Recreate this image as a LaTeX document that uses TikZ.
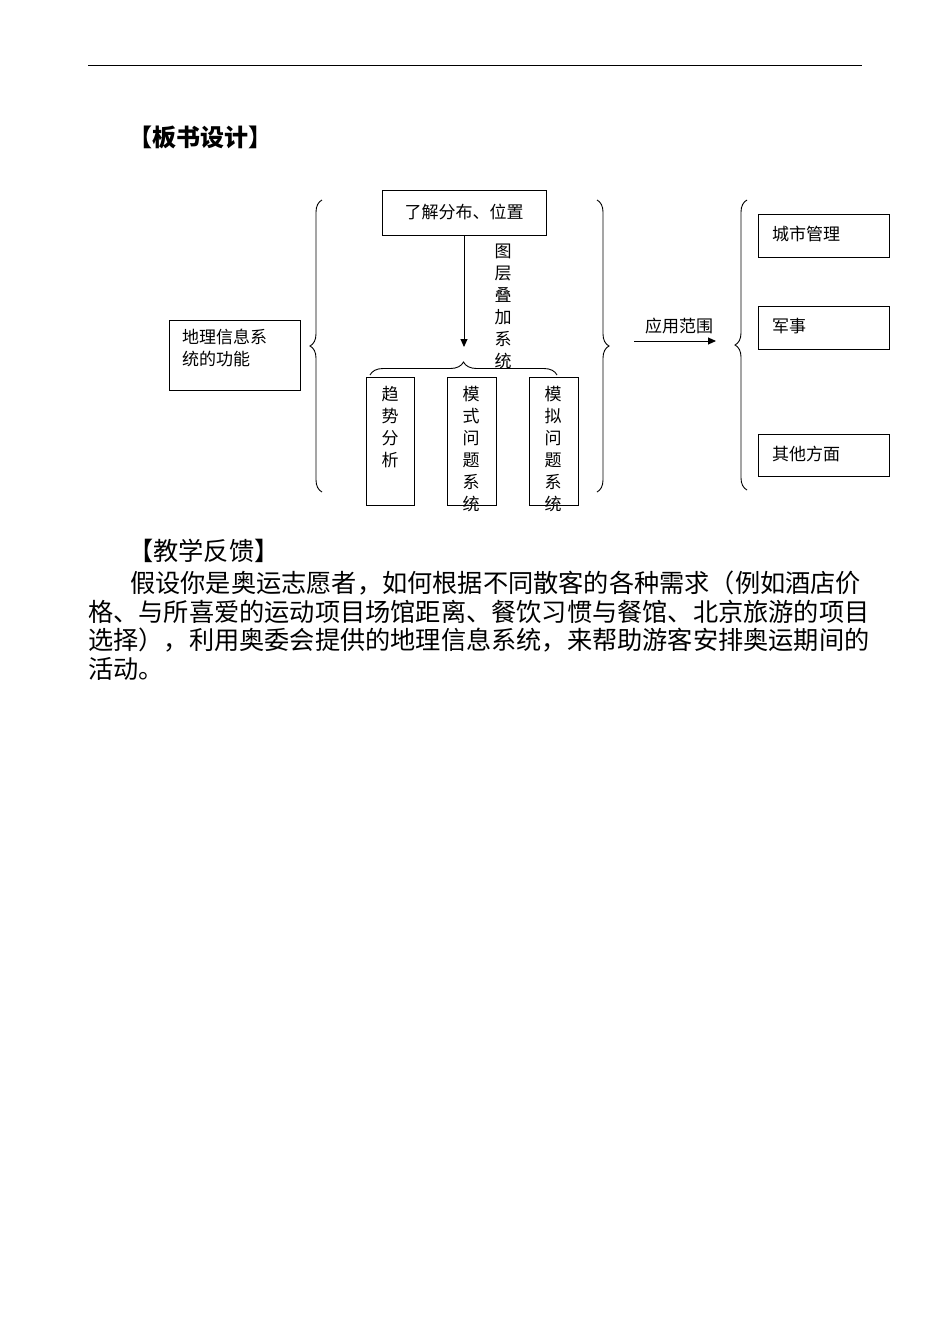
\documentclass[tikz,border=0pt]{standalone}
\usepackage{fontspec}
\setmainfont{Noto Sans CJK SC}
\usetikzlibrary{decorations.pathreplacing,arrows.meta}
\begin{document}
\begin{tikzpicture}[x=1pt,y=-1pt,
  box/.style={draw,line width=0.9pt,inner sep=0},
  lbl/.style={font=\fontsize{17}{22}\selectfont,inner sep=0},
  br/.style={decorate,decoration={brace,amplitude=12pt},line width=0.9pt},
  para/.style={font=\fontsize{25.2}{29}\selectfont,anchor=west,inner sep=0}]
\useasboundingbox (0,0) rectangle (950,1342);
\draw[line width=0.9pt] (88,65) -- (862,65);
\node[anchor=west,inner sep=0,font=\fontsize{24}{28}\selectfont\bfseries] (t1) at (128,137) {【板书设计】};
\draw[box] (169,320) rectangle (300,390);
\node[lbl,align=left,anchor=north west] (f) at (182,329) {地理信息系\\统的功能};
\draw[br] (322,492) -- (322,200);
\draw[box] (382,190) rectangle (546,235);
\node[lbl] (top) at (464,212) {了解分布、位置};
\coordinate (a1) at (464,235);
\coordinate (a2) at (464,347);
\draw[-{Triangle[length=8pt,width=7pt]},line width=0.9pt] (a1) -- (a2);
\node[lbl,align=center,anchor=north] (v) at (503,244) {图\\层\\叠\\加\\系\\统};
\draw[decorate,decoration={brace,amplitude=13pt},line width=0.9pt] (370,375) -- (557,375);
\draw[box] (366,377) rectangle (414,505);
\draw[box] (447,377) rectangle (496,505);
\draw[box] (529,377) rectangle (578,505);
\node[lbl,align=center,anchor=north] (b1) at (390,386) {趋\\势\\分\\析};
\node[lbl,align=center,anchor=north] (b2) at (471,386) {模\\式\\问\\题\\系\\统};
\node[lbl,align=center,anchor=north] (b3) at (553,386) {模\\拟\\问\\题\\系\\统};
\draw[br] (597,200) -- (597,492);
\coordinate (r1) at (634,341);
\coordinate (r2) at (716,341);
\draw[-{Triangle[length=8pt,width=7pt]},line width=0.9pt] (r1) -- (r2);
\node[lbl] (yy) at (679,326) {应用范围};
\draw[br] (747,490) -- (747,200);
\draw[box] (758,214) rectangle (889,257);
\draw[box] (758,306) rectangle (889,349);
\draw[box] (758,434) rectangle (889,476);
\node[lbl,anchor=west] (c1) at (772,234) {城市管理};
\node[lbl,anchor=west] (c2) at (772,326) {军事};
\node[lbl,anchor=west] (c3) at (772,454) {其他方面};
\node[para] (t2) at (128,551) {【教学反馈】};
\node[para] (p1) at (130,583) {假设你是奥运志愿者，如何根据不同散客的各种需求（例如酒店价};
\node[para] (p2) at (88,612) {格、与所喜爱的运动项目场馆距离、餐饮习惯与餐馆、北京旅游的项目};
\node[para] (p3) at (88,640) {选择），利用奥委会提供的地理信息系统，来帮助游客安排奥运期间的};
\node[para] (p4) at (88,669) {活动。};
\end{tikzpicture}
\end{document}
